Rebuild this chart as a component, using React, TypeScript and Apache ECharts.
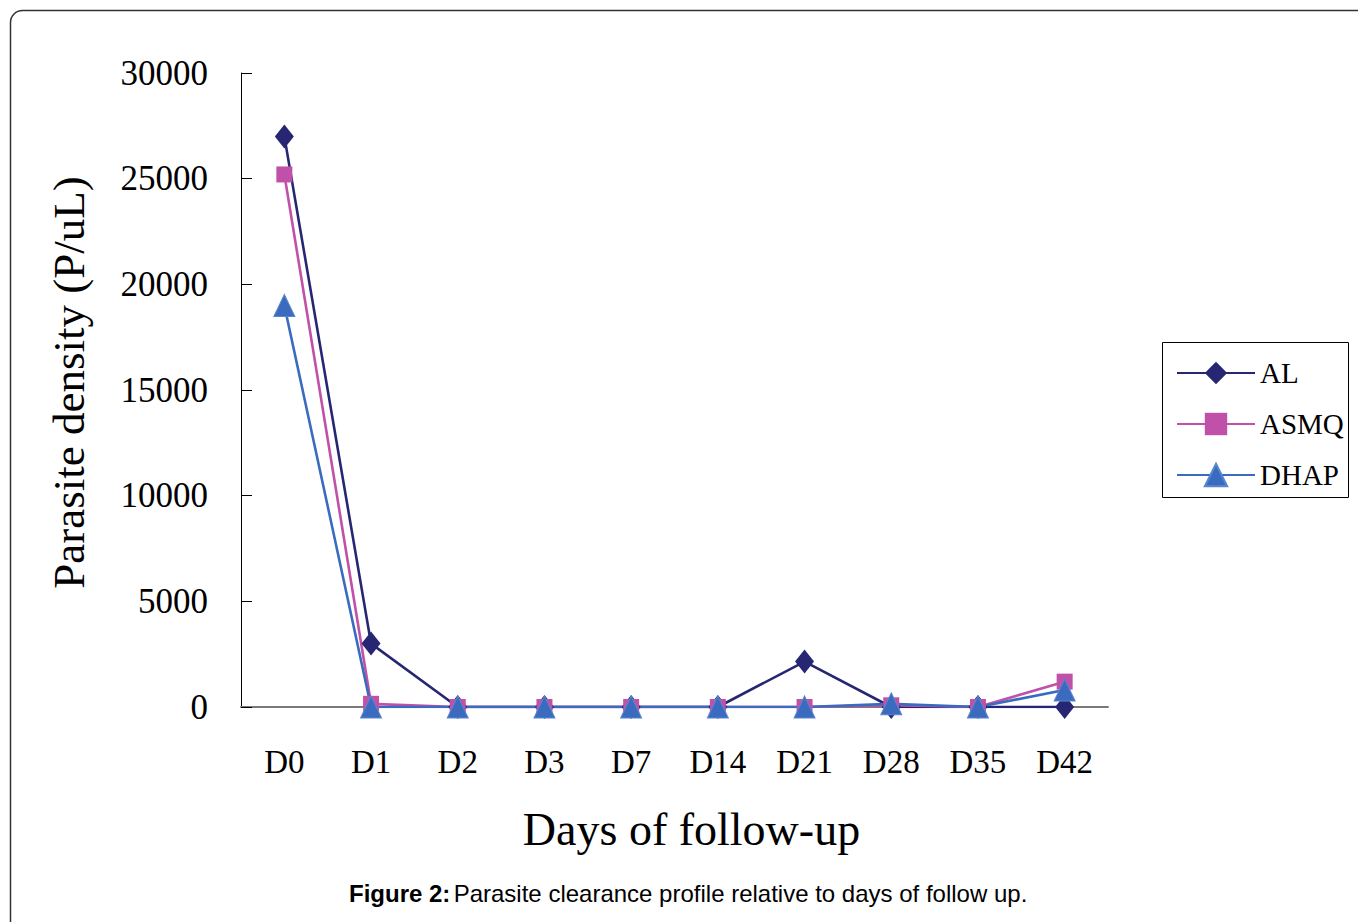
import React, { useEffect, useRef } from "react";
import * as echarts from "echarts";

const categories = ["D0", "D1", "D2", "D3", "D7", "D14", "D21", "D28", "D35", "D42"];
const alValues = [27000, 3000, 0, 0, 0, 0, 2150, 0, 0, 0];
const asmqValues = [25200, 150, 0, 0, 0, 0, 0, 80, 0, 1200];
const dhapValues = [19000, 0, 0, 0, 0, 0, 0, 150, 0, 800];
const seriesNames = ["AL", "ASMQ", "DHAP"];
const colors = ["#262673", "#C050A8", "#3A6BBF"];

const SERIF = "'Liberation Serif', 'Times New Roman', serif";
const SANS = "'Liberation Sans', Arial, sans-serif";

export default function App() {
  const ref = useRef<HTMLDivElement>(null);
  useEffect(() => {
    if (!ref.current) return;
    const chart = echarts.init(ref.current, null, { renderer: "svg" });
    const common = (i: number) => ({
      name: seriesNames[i],
      type: "line",
      showAllSymbol: true,
      lineStyle: { color: colors[i], width: 2.6 },
      itemStyle: { color: colors[i] },
    });
    chart.setOption({
      animation: false,
      backgroundColor: "#ffffff",
      grid: { left: 241, right: 250, top: 73, bottom: 215, containLabel: false },
      legend: {
        orient: "vertical",
        left: 1162,
        top: 342,
        padding: [15, 10, 15, 14],
        itemWidth: 78,
        itemHeight: 28,
        itemGap: 19,
        borderWidth: 0,
        textStyle: { fontFamily: SERIF, fontSize: 29, color: "#000", lineHeight: 32 },
        data: seriesNames,
      },
      xAxis: {
        type: "category",
        data: categories,
        boundaryGap: true,
        axisLine: { lineStyle: { color: "#7a7a7a", width: 2 } },
        axisTick: { inside: true, length: 12, lineStyle: { color: "#555", width: 1 } },
        axisLabel: { fontFamily: SERIF, fontSize: 33, color: "#000", margin: 38 },
        name: "Days of follow-up",
        nameLocation: "middle",
        nameGap: 99,
        nameTextStyle: { fontFamily: SERIF, fontSize: 46, color: "#000", padding: [0, 0, 0, 34] },
      },
      yAxis: {
        type: "value",
        min: 0,
        max: 30000,
        interval: 5000,
        splitLine: { show: false },
        axisLine: { show: true, lineStyle: { color: "#000", width: 1 } },
        axisTick: { show: true, inside: true, length: 11, lineStyle: { color: "#000", width: 1 } },
        axisLabel: {
          fontFamily: SERIF,
          fontSize: 35,
          color: "#000",
          margin: 33,
          formatter: (v: number) => String(v),
        },
        name: "Parasite density (P/uL)",
        nameLocation: "middle",
        nameGap: 150,
        nameTextStyle: { fontFamily: SERIF, fontSize: 45, color: "#000", padding: [0, 0, 0, 15] },
      },
      series: [
        { ...common(0), data: alValues, symbol: "diamond", symbolSize: [19, 24] },
        { ...common(1), data: asmqValues, symbol: "rect", symbolSize: 16 },
        {
          ...common(2),
          data: dhapValues,
          symbol: "triangle",
          symbolSize: [21, 22],
          itemStyle: { color: colors[2], borderColor: "#5a86d0", borderWidth: 1 },
        },
      ],
      graphic: [
        {
          type: "rect",
          shape: { x: 10.5, y: 10.5, width: 1400, height: 1000, r: 12 },
          style: { fill: "none", stroke: "#333", lineWidth: 1.5 },
          silent: true,
        },
        {
          type: "rect",
          shape: { x: 1162.5, y: 342.5, width: 186, height: 155 },
          style: { fill: "none", stroke: "#000", lineWidth: 1 },
          silent: true,
        },
        {
          type: "text",
          x: 349,
          y: 893,
          style: {
            text: "{b|Figure 2:} {n|Parasite clearance profile relative to days of follow up.}",
            verticalAlign: "middle",
            rich: {
              b: { fontFamily: SANS, fontSize: 24, fontWeight: "bold", fill: "#000" },
              n: { fontFamily: SANS, fontSize: 24, fill: "#000" },
            },
          },
        },
      ],
    });
    return () => chart.dispose();
  }, []);
  return (
    <div
      ref={ref}
      style={{ position: "absolute", left: 0, top: 0, width: 1358, height: 922, background: "#fff" }}
    />
  );
}
